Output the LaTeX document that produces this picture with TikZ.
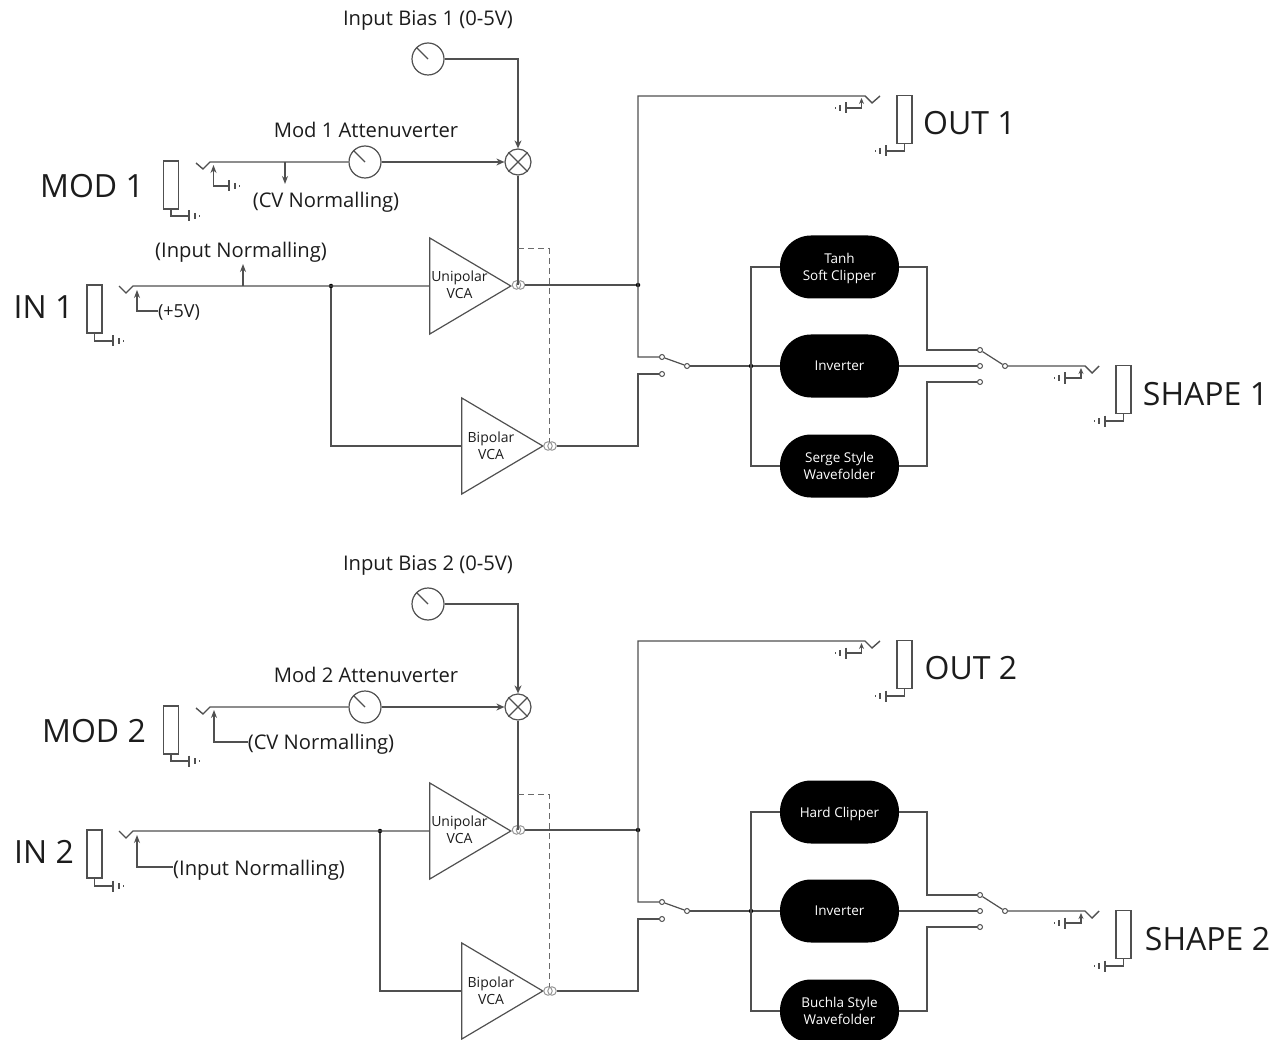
\documentclass[tikz,border=0pt]{standalone}
\usepackage{fontspec}
\setmainfont{Open Sans}
\usetikzlibrary{arrows.meta,shapes.geometric}
\definecolor{wirec}{HTML}{505050}
\definecolor{inkc}{HTML}{1C1C1C}
\newcommand{\fs}[1]{\fontsize{#1}{#1}\selectfont}
\tikzset{
  wire/.style={draw=wirec,line width=1.4pt},
  thin wire/.style={draw=wirec,line width=1.2pt},
  dash link/.style={draw=wirec!85,line width=1pt,dash pattern=on 6pt off 4pt},
  arrowed/.style={wire,-{Stealth[length=8pt,width=7pt]}},
  arrowthin/.style={thin wire,-{Stealth[length=8pt,width=6pt]}},
  pot/.style={circle,draw=wirec,line width=1.2pt,minimum size=32pt,inner sep=0pt},
  mult/.style={circle,draw=wirec,line width=1.2pt,minimum size=26pt,inner sep=0pt},
  jackbox/.style={rectangle,draw=wirec,line width=1.2pt,minimum width=15pt,minimum height=48pt,inner sep=0pt},
  vca/.style={isosceles triangle,isosceles triangle apex angle=60,isosceles triangle stretches,shape border rotate=0,
    draw=wirec,line width=1.2pt,minimum width=96pt,minimum height=81pt,inner sep=0pt,anchor=apex},
  ring/.style={circle,draw=wirec!60,line width=1pt,minimum size=8.5pt,inner sep=0pt},
  contact/.style={circle,draw=wirec,line width=1pt,fill=white,minimum size=5pt,inner sep=0pt},
  junct/.style={circle,fill=black,minimum size=4.5pt,inner sep=0pt},
  shaper/.style={rectangle,rounded corners=31pt,fill=black,text=white,minimum width=119pt,minimum height=63pt,inner sep=0pt,
    align=center,font=\fs{13.5},text depth=0pt},
  lbl/.style={text=inkc,font=\fs{20.2},inner sep=0pt,align=center},
  vcalbl/.style={text=inkc,font=\fs{14},inner sep=0pt,align=center},
  big/.style={text=inkc,font=\fs{32},inner sep=0pt},
  gndsym/.pic={
    \draw[thin wire] (0,-5.5) -- (0,5.5);
    \draw[thin wire] (6,-3) -- (6,3);
    \fill[wirec] (10,-0.9) rectangle (11.2,0.9);
  }
}
% shared drawing of one channel; #1 = x of the input junction
\newcommand{\ChannelCommon}[1]{%
  \node[pot] (bias) at (428,59) {};
  \draw[thin wire] (bias.center) -- (bias.135);
  \node[mult] (mix) at (518,162) {};
  \draw[thin wire] (mix.45) -- (mix.225);
  \draw[thin wire] (mix.135) -- (mix.315);
  \coordinate (biasturn) at (518,59);
  \draw[arrowed] (bias.east) -- (biasturn) -- (mix.north);
  \node[pot] (atten) at (365,162) {};
  \draw[thin wire] (atten.center) -- (atten.135);
  % mod jack
  \node[jackbox] (modjack) at (171,185) {};
  \coordinate (modv) at (196,163);
  \coordinate (modvb) at (203,169);
  \coordinate (modvt) at (210,162);
  \draw[wire] (modv) -- (modvb) -- (modvt) -- (atten.west);
  \draw[arrowed] (atten.east) -- (mix.west);
  \coordinate (modg) at (189,216);
  \draw[thin wire] (modjack.south) |- (modg);
  \pic at (modg) {gndsym};
  % in jack
  \node[jackbox] (injack) at (94.5,309) {};
  \coordinate (inv) at (119,286);
  \coordinate (invb) at (126,293);
  \coordinate (invt) at (133,286);
  \coordinate (ing) at (113,341);
  \draw[thin wire] (injack.south) |- (ing);
  \pic at (ing) {gndsym};
  % VCAs
  \node[vca] (uni) at (512,286) {};
  \node[vca] (bip) at (544,446) {};
  \node[vcalbl] (unit) at (459.5,285) {Unipolar\\[3pt]VCA};
  \node[vcalbl] (bipt) at (491,446) {Bipolar\\[3pt]VCA};
  \node[junct] (inj) at (#1,286) {};
  \draw[wire] (inv) -- (invb) -- (invt) -- (uni.lower side);
  \coordinate (inturn) at (#1,446);
  \draw[wire] (inj) -- (inturn) -- (bip.lower side);
  \node[ring] (ua) at (516.5,285) {};
  \node[ring] (ub) at (520.5,285) {};
  \node[ring] (ba) at (548,446) {};
  \node[ring] (bb) at (552,446) {};
  \coordinate (uturn) at (518,285);
  \draw[wire] (mix.south) -- (uturn);
  \coordinate (d1) at (518,249);
  \coordinate (d2) at (549,249);
  \coordinate (d3) at (549,442);
  \draw[dash link] (d1) -- (d2) -- (d3);
  % output node and switch 1
  \node[junct] (outj) at (638,285) {};
  \draw[wire] (ub.east) -- (outj);
  \node[contact] (s1a) at (662,357) {};
  \node[contact] (s1b) at (662,374) {};
  \node[contact] (s1c) at (687,366) {};
  \coordinate (outtop) at (638,96);
  \coordinate (outv) at (865,96);
  \coordinate (outvb) at (872,103);
  \coordinate (outvt) at (880,96);
  \coordinate (sw1u) at (638,357);
  \coordinate (sw1l) at (638,374);
  \coordinate (bipc) at (638,446);
  \draw[wire] (outvt) -- (outvb) -- (outv) -- (outtop) -- (sw1u) -- (s1a.west);
  \draw[wire] (bb.east) -- (bipc) -- (sw1l) -- (s1b.west);
  \draw[thin wire] (s1a) -- (s1c);
  % out jack
  \coordinate (outn) at (861.5,108);
  \coordinate (outnt) at (861.5,98);
  \coordinate (outng) at (846,108);
  \draw[thin wire,-{Stealth[length=6pt,width=5pt]}] (outng) -- (outn) -- (outnt);
  \pic[xscale=-1] at (outng) {gndsym};
  \node[jackbox] (outjack) at (904.5,119.5) {};
  \coordinate (outg) at (886,151);
  \draw[thin wire] (outjack.south) |- (outg);
  \pic[xscale=-1] at (outg) {gndsym};
}
\newcommand{\ShaperWiring}{%
  \node[junct] (shj) at (751,366) {};
  \draw[wire] (s1c.east) -- (shj) -- (sm.west);
  \coordinate (stl) at (751,267);
  \coordinate (sbl) at (751,466);
  \draw[wire] (st.west) -- (stl) -- (sbl) -- (sb.west);
  \node[contact] (s2a) at (980,350) {};
  \node[contact] (s2b) at (980,366) {};
  \node[contact] (s2l) at (980,382) {};
  \node[contact] (s2c) at (1005,366) {};
  \coordinate (str) at (927,267);
  \coordinate (strd) at (927,350);
  \coordinate (sbr) at (927,466);
  \coordinate (sbru) at (927,382);
  \draw[wire] (st.east) -- (str) -- (strd) -- (s2a.west);
  \draw[wire] (sm.east) -- (s2b.west);
  \draw[wire] (sb.east) -- (sbr) -- (sbru) -- (s2l.west);
  \draw[thin wire] (s2a) -- (s2c);
  \coordinate (shv) at (1085,366);
  \coordinate (shvb) at (1092,373);
  \coordinate (shvt) at (1099,366);
  \draw[wire] (s2c.east) -- (shv) -- (shvb) -- (shvt);
  \coordinate (shn) at (1081,378);
  \coordinate (shnt) at (1081,368);
  \coordinate (shng) at (1065,378);
  \draw[thin wire,-{Stealth[length=6pt,width=5pt]}] (shng) -- (shn) -- (shnt);
  \pic[xscale=-1] at (shng) {gndsym};
  \node[jackbox] (shjack) at (1123.5,389.5) {};
  \coordinate (shg) at (1105,421);
  \draw[thin wire] (shjack.south) |- (shg);
  \pic[xscale=-1] at (shg) {gndsym};
}
\begin{document}
\begin{tikzpicture}[x=1pt,y=-1pt]
\useasboundingbox (0,0) rectangle (1274,1040);
\clip (0,0) rectangle (1274,1040);
\begin{scope}[name prefix=a-]
  \ChannelCommon{331}
  \node[shaper] (st) at (839.5,267) {Tanh\\[3pt]Soft Clipper};
  \node[shaper] (sm) at (839.5,366) {Inverter};
  \node[shaper] (sb) at (839.5,466) {Serge Style\\[3pt]Wavefolder};
  \ShaperWiring
  \node[lbl] (biast) at (428,21) {Input Bias 1 (0-5V)};
  \node[lbl] (attent) at (366,130) {Mod 1 Attenuverter};
  \node[big] (modt) at (92,186) {MOD 1};
  \node[big] (int) at (43.5,307) {IN 1};
  \node[big] (outt) at (969.5,123) {OUT 1};
  \node[big] (shapet) at (1205.5,394) {SHAPE 1};
  \node[lbl] (cvn) at (326,202) {(CV Normalling)};
  \node[lbl] (inn) at (241,252) {(Input Normalling)};
  \node[lbl,font=\fs{18}] (fivev) at (179,312) {(+5V)};
  % normalling
  \coordinate (mb) at (285,162);
  \coordinate (mbt) at (285,184);
  \draw[arrowthin] (mb) -- (mbt);
  \coordinate (mn) at (213.5,186);
  \coordinate (mnt) at (213.5,165);
  \coordinate (mng) at (229,186);
  \draw[arrowthin] (mng) -- (mn) -- (mnt);
  \pic at (mng) {gndsym};
  \coordinate (ib) at (243,286);
  \coordinate (ibt) at (243,264);
  \draw[arrowthin] (ib) -- (ibt);
  \coordinate (in1t) at (137,290);
  \draw[arrowthin] ([yshift=1pt]fivev.west) -| (in1t);
\end{scope}
\begin{scope}[shift={(0,545)},name prefix=b-]
  \ChannelCommon{380}
  \node[shaper] (st) at (839.5,267) {Hard Clipper};
  \node[shaper] (sm) at (839.5,366) {Inverter};
  \node[shaper] (sb) at (839.5,466) {Buchla Style\\[3pt]Wavefolder};
  \ShaperWiring
  \node[lbl] (biast) at (428,21) {Input Bias 2 (0-5V)};
  \node[lbl] (attent) at (366,130) {Mod 2 Attenuverter};
  \node[big] (modt) at (94,186) {MOD 2};
  \node[big] (int) at (44,307) {IN 2};
  \node[big] (outt) at (971,123) {OUT 2};
  \node[big] (shapet) at (1207.5,394) {SHAPE 2};
  \node[lbl] (cvn) at (321,199) {(CV Normalling)};
  \node[lbl] (inn) at (259,325) {(Input Normalling)};
  \coordinate (mnt) at (214,165);
  \draw[arrowthin] ([yshift=2pt]cvn.west) -| (mnt);
  \coordinate (in1t) at (137,290);
  \draw[arrowthin] ([yshift=3pt]inn.west) -| (in1t);
\end{scope}
\end{tikzpicture}
\end{document}
